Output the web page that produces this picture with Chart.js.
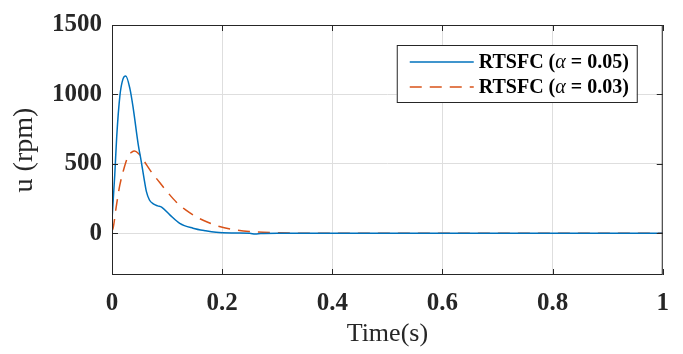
<!DOCTYPE html>
<html>
<head>
<meta charset="utf-8">
<script src="https://cdn.jsdelivr.net/npm/chart.js@4/dist/chart.umd.min.js"></script>
<style>
  html, body { margin: 0; padding: 0; background: #fff; }
  #wrap { width: 683px; height: 354px; }
</style>
</head>
<body>
<div id="wrap"><canvas id="chart"></canvas></div>
<script>
// values
const timeA = [0, 0.005, 0.0085, 0.0144, 0.02, 0.025, 0.0325, 0.0385, 0.0475, 0.053, 0.058, 0.0625, 0.068, 0.075, 0.083, 0.09, 0.105, 0.123, 0.147, 0.17, 0.189, 0.22, 0.25, 0.26, 0.27, 0.3, 1]
const uA = [100, 420, 692, 993, 1112, 1133, 1042, 902, 643, 520, 400, 300, 240, 212, 198, 189, 133, 72, 37, 18, 7, 2, 0, -5, -2, 0, 0]

const timeB = [0, 0.002, 0.008, 0.014, 0.022, 0.029, 0.036, 0.041, 0.048, 0.057, 0.07, 0.087, 0.1, 0.117, 0.135, 0.153, 0.175, 0.195, 0.22, 0.249, 0.297, 0.35, 1]
const uB = [20, 37, 200, 343, 470, 552, 585, 592, 575, 527, 450, 364, 300, 224, 165, 119, 78, 49, 28, 14, 5, 0, 0]

const seriesLabels = ['RTSFC (α = 0.05)', 'RTSFC (α = 0.03)']
const xTicks = [0, 0.2, 0.4, 0.6, 0.8, 1]
const yTicks = [0, 500, 1000, 1500]

const toPoints = (xs, ys) => xs.map((x, i) => ({x: x, y: ys[i]}))

// box around plot + inward ticks, like matlab
const boxPlugin = {
    id: 'box',
    afterDraw(chart) {
        const ctx = chart.ctx
        const a = chart.chartArea
        const xs = chart.scales.x, ys = chart.scales.y
        ctx.save()
        ctx.strokeStyle = '#262626'
        ctx.lineWidth = 1
        ctx.strokeRect(a.left + 0.5, a.top + 0.5, a.right - a.left - 1, a.bottom - a.top - 1)
        ctx.beginPath()
        xTicks.forEach(v => {
            const px = Math.round(xs.getPixelForValue(v)) + 0.5
            ctx.moveTo(px, a.bottom); ctx.lineTo(px, a.bottom - 6)
            ctx.moveTo(px, a.top); ctx.lineTo(px, a.top + 6)
        })
        yTicks.forEach(v => {
            const py = Math.round(ys.getPixelForValue(v)) + 0.5
            ctx.moveTo(a.left, py); ctx.lineTo(a.left + 6, py)
            ctx.moveTo(a.right, py); ctx.lineTo(a.right - 6, py)
        })
        ctx.stroke()
        ctx.restore()
    }
}

// legend box in top right corner
const legendPlugin = {
    id: 'boxLegend',
    afterDraw(chart) {
        const ctx = chart.ctx
        const a = chart.chartArea
        const bx = a.right - 26 - 240, by = a.top + 20, bw = 240, bh = 57
        ctx.save()
        ctx.fillStyle = '#fff'
        ctx.fillRect(bx, by, bw, bh)
        ctx.strokeStyle = '#262626'
        ctx.lineWidth = 1
        ctx.strokeRect(bx + 0.5, by + 0.5, bw, bh)
        chart.data.datasets.forEach((ds, i) => {
            const y = by + 17 + i * 25
            ctx.strokeStyle = ds.borderColor
            ctx.lineWidth = 1.5
            ctx.setLineDash(ds.borderDash || [])
            ctx.beginPath()
            ctx.moveTo(bx + 13, y); ctx.lineTo(bx + 77, y)
            ctx.stroke()
            ctx.setLineDash([])
            // label split so alpha can be italic
            const parts = ds.label.split('α')
            ctx.fillStyle = '#000'
            ctx.textBaseline = 'middle'
            let x = bx + 82
            ctx.font = 'bold 20px "Liberation Serif"'
            ctx.fillText(parts[0], x, y + 1)
            x += ctx.measureText(parts[0]).width
            ctx.font = 'italic 20px "Liberation Serif"'
            ctx.fillText('α', x, y + 1)
            x += ctx.measureText('α').width
            ctx.font = 'bold 20px "Liberation Serif"'
            ctx.fillText(parts[1], x, y + 1)
        })
        ctx.restore()
    }
}

const tickFont = {family: 'Liberation Serif', size: 25, weight: 'bold'}

new Chart(document.getElementById('chart'), {
    type: 'line',
    data: {
        datasets: [{
            label: seriesLabels[0],
            data: toPoints(timeA, uA),
            borderColor: '#0072BD',
            borderWidth: 1.5,
            pointRadius: 0,
            cubicInterpolationMode: 'monotone',
            fill: false
        }, {
            label: seriesLabels[1],
            data: toPoints(timeB, uB),
            borderColor: '#D95319',
            borderWidth: 1.5,
            borderDash: [12, 8],
            pointRadius: 0,
            cubicInterpolationMode: 'monotone',
            fill: false
        }]
    },
    options: {
        responsive: true,
        maintainAspectRatio: false,
        animation: false,
        layout: { padding: {top: 17, right: 17, left: 0, bottom: 0} },
        plugins: {
            legend: { display: false },
            tooltip: { enabled: false }
        },
        scales: {
            x: {
                type: 'linear',
                min: 0, max: 1,
                afterBuildTicks: s => { s.ticks = xTicks.map(v => ({value: v})) },
                afterFit: s => { s.height = 79 },
                grid: { color: '#dedede', drawTicks: false },
                border: { display: false },
                ticks: { font: tickFont, color: '#262626', padding: 14, maxRotation: 0,
                    callback: v => String(v) },
                title: { display: true, text: 'Time(s)', font: {family: 'Liberation Serif', size: 26},
                    color: '#262626', padding: {top: 0} }
            },
            y: {
                min: -300, max: 1500,
                afterBuildTicks: s => { s.ticks = yTicks.map(v => ({value: v})) },
                afterFit: s => { s.width = 112 },
                grid: { color: '#dedede', drawTicks: false },
                border: { display: false },
                ticks: { font: tickFont, color: '#262626', padding: 10,
                    callback: v => String(v) },
                title: { display: true, text: 'u (rpm)', font: {family: 'Liberation Serif', size: 28},
                    color: '#262626', padding: {top: 8, bottom: 4} }
            }
        }
    },
    plugins: [boxPlugin, legendPlugin]
})
</script>
</body>
</html>
